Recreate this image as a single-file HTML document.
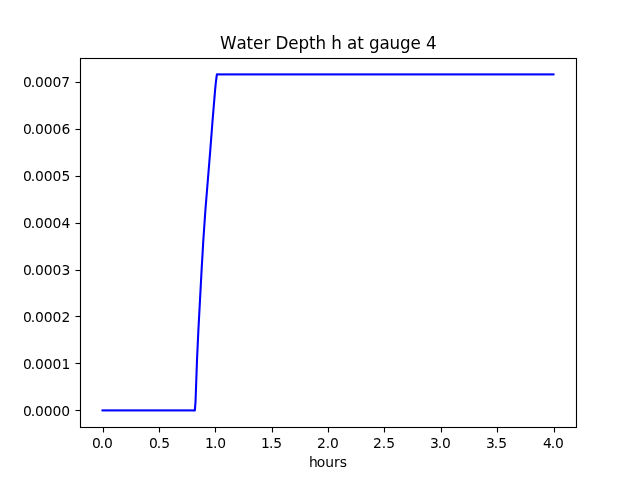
<!DOCTYPE html>
<html lang="en">
<head>
<meta charset="utf-8">
<title>Water Depth h at gauge 4</title>
<style>
html,body{margin:0;padding:0;background:#fff;}
body{width:640px;height:480px;overflow:hidden;}
svg{display:block;}
text{font-family:"DejaVu Sans","Liberation Sans",sans-serif;fill:#000;}
.tick{font-size:13.889px;}
.title{font-size:16.75px;}
</style>
</head>
<body>
<svg width="640" height="480" viewBox="0 0 640 480" role="img" aria-label="Water Depth h at gauge 4">
<rect x="0" y="0" width="640" height="480" fill="#ffffff"/>
<g stroke="#000" stroke-width="1.111" fill="none">
<line x1="103.5" y1="427.5" x2="103.5" y2="432.5"/>
<line x1="159.5" y1="427.5" x2="159.5" y2="432.5"/>
<line x1="215.5" y1="427.5" x2="215.5" y2="432.5"/>
<line x1="272.5" y1="427.5" x2="272.5" y2="432.5"/>
<line x1="328.5" y1="427.5" x2="328.5" y2="432.5"/>
<line x1="384.5" y1="427.5" x2="384.5" y2="432.5"/>
<line x1="441.5" y1="427.5" x2="441.5" y2="432.5"/>
<line x1="497.5" y1="427.5" x2="497.5" y2="432.5"/>
<line x1="554.5" y1="427.5" x2="554.5" y2="432.5"/>
<line x1="80.5" y1="410.5" x2="75.5" y2="410.5"/>
<line x1="80.5" y1="363.5" x2="75.5" y2="363.5"/>
<line x1="80.5" y1="316.5" x2="75.5" y2="316.5"/>
<line x1="80.5" y1="270.5" x2="75.5" y2="270.5"/>
<line x1="80.5" y1="223.5" x2="75.5" y2="223.5"/>
<line x1="80.5" y1="176.5" x2="75.5" y2="176.5"/>
<line x1="80.5" y1="129.5" x2="75.5" y2="129.5"/>
<line x1="80.5" y1="82.5" x2="75.5" y2="82.5"/>
</g>
<text class="tick" x="92 99.75 103.875" y="448">0.0</text>
<text class="tick" x="149 156.75 161.125" y="448">0.5</text>
<text class="tick" x="205 212.875 217.25" y="448">1.0</text>
<text class="tick" x="261 268.875 273.25" y="448">1.5</text>
<text class="tick" x="317 325.75 329.875" y="448">2.0</text>
<text class="tick" x="373 381.75 386.125" y="448">2.5</text>
<text class="tick" x="430 437.75 441.875" y="448">3.0</text>
<text class="tick" x="486 493.75 498.125" y="448">3.5</text>
<text class="tick" x="543 550.75 554.875" y="448">4.0</text>
<text class="tick" x="23 30.75 34.875 43.625 52.375 61.125" y="416">0.0000</text>
<text class="tick" x="23 30.75 34.875 43.625 52.375 61.375" y="369">0.0001</text>
<text class="tick" x="23 30.75 34.875 43.625 52.375 61.375" y="322">0.0002</text>
<text class="tick" x="23 30.75 34.875 43.625 52.375 61.375" y="275">0.0003</text>
<text class="tick" x="23 30.75 34.875 43.625 52.375 61.375" y="228">0.0004</text>
<text class="tick" x="23 30.75 34.875 43.625 52.375 61.375" y="181">0.0005</text>
<text class="tick" x="23 30.75 34.875 43.625 52.375 61.375" y="134">0.0006</text>
<text class="tick" x="23 30.75 34.875 43.625 52.375 61.125" y="87">0.0007</text>
<text class="tick" x="309 316.75 325.25 334 339.75" y="467">hours</text>
<text class="title" x="220 236.484 246.609 253.109 263.609 270.234 275.484 288.359 298.609 309.109 315.609 326.109 331.359 341.859 347.109 357.234 363.734 368.984 379.484 389.609 400.109 410.609 420.859 426.109" y="49">Water Depth h at gauge 4</text>
<g fill="#0000ff">
<rect x="101.504" y="409.358" width="91.496" height="2.083"/>
<rect x="218.000" y="73.358" width="336.496" height="2.083"/>
</g>
<polyline fill="none" stroke="#0000ff" stroke-width="2.083" stroke-linejoin="round" stroke-linecap="butt" points="193.00,410.40 194.85,410.40 195.50,402.00 195.95,390.00 197.00,360.00 198.40,330.00 200.00,300.00 201.60,270.00 203.35,240.00 205.40,210.00 207.85,180.00 210.30,150.00 212.60,120.00 215.10,90.00 215.90,82.00 216.40,78.00 216.90,74.40 218.00,74.40"/>
<rect x="80.5" y="58.5" width="496" height="369" fill="none" stroke="#000" stroke-width="1.111" stroke-linejoin="miter"/>
</svg>
</body>
</html>
